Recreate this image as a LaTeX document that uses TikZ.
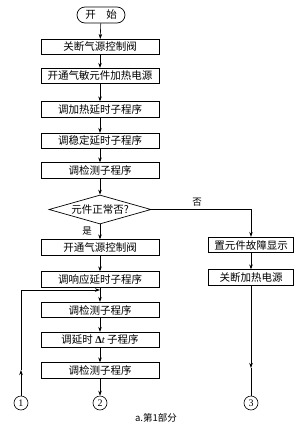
\documentclass[tikz,border=0pt]{standalone}
\usepackage{fontspec}
\newfontfamily\cjk{Noto Sans CJK SC}
\newfontfamily\serifl{Liberation Serif}
\usetikzlibrary{shapes.geometric,arrows.meta}
\begin{document}
\begin{tikzpicture}[x=1pt,y=-1pt,
  box/.style={draw, line width=0.7pt, minimum width=118pt, minimum height=15.5pt, inner sep=0pt, font=\cjk\fontsize{10.5}{12}\selectfont},
  arr/.style={-{Stealth[length=5pt,width=3.5pt]}, line width=0.6pt},
  ln/.style={line width=0.6pt},
  conn/.style={draw, circle, line width=0.6pt, minimum size=14pt, inner sep=0pt, font=\serifl\fontsize{10}{12}\selectfont},
  lbl/.style={font=\cjk\fontsize{9.5}{11}\selectfont, inner sep=0pt}]
\useasboundingbox (0,0) rectangle (300,429);
\node[draw, line width=0.7pt, rounded corners=8pt, minimum width=48pt, minimum height=16pt, inner sep=0pt, font=\cjk\fontsize{10.5}{12}\selectfont] (st) at (101,15) {开\quad 始};
\node[box] (b1) at (100,47) {关断气源控制阀};
\node[box] (b2) at (100,76) {开通气敏元件加热电源};
\node[box] (b3) at (100,109.5) {调加热延时子程序};
\node[box] (b4) at (100,141) {调稳定延时子程序};
\node[box] (b5) at (100,170.5) {调检测子程序};
\node[draw, diamond, aspect=3.5, line width=0.7pt, minimum width=102pt, minimum height=29pt, inner sep=0pt, font=\cjk\fontsize{10.5}{12}\selectfont] (d) at (100,209.5) {元件正常否?};
\node[box] (b6) at (100,247.5) {开通气源控制阀};
\node[box] (b7) at (100,279.5) {调响应延时子程序};
\node[box] (b8) at (100,310) {调检测子程序};
\node[box] (b9) at (100,340) {调延时 {\serifl{\bfseries Δ}{\itshape t}} 子程序};
\node[box] (b10) at (100,370.5) {调检测子程序};
\node[box, minimum width=85pt] (r1) at (251,245) {置元件故障显示};
\node[box, minimum width=85pt] (r2) at (251,277.5) {关断加热电源};
\node[conn] (c1) at (21,403) {1};
\node[conn] (c2) at (100,403) {2};
\node[conn] (c3) at (251,403) {3};
\node[lbl] (no) at (197,202) {否};
\node[lbl] (yes) at (87,231) {是};
\node[font=\cjk\fontsize{9.5}{11}\selectfont, inner sep=0pt] (cap) at (156,418) {a.第1部分};
\coordinate (j) at (100,290);
\coordinate (lc) at (21,290);
\coordinate (m1) at (21,370);
\coordinate (m3) at (251,368);
\draw[arr] (st) -- (b1);
\draw[arr] (b1) -- (b2);
\draw[arr] (b2) -- (b3);
\draw[arr] (b3) -- (b4);
\draw[arr] (b4) -- (b5);
\draw[arr] (b5) -- (d);
\draw[arr] (d) -- (b6);
\draw[arr] (b6) -- (b7);
\draw[arr] (b7) -- (b8);
\draw[arr] (b8) -- (b9);
\draw[arr] (b9) -- (b10);
\draw[arr] (b10) -- (c2);
\draw[arr] (d.east) -| (r1.north);
\draw[arr] (r1) -- (r2);
\draw[arr] (r2) -- (m3);
\draw[ln] (m3) -- (c3);
\draw[arr] (c1) -- (m1);
\draw[arr] (m1) -- (lc) -- (j);
\end{tikzpicture}
\end{document}
